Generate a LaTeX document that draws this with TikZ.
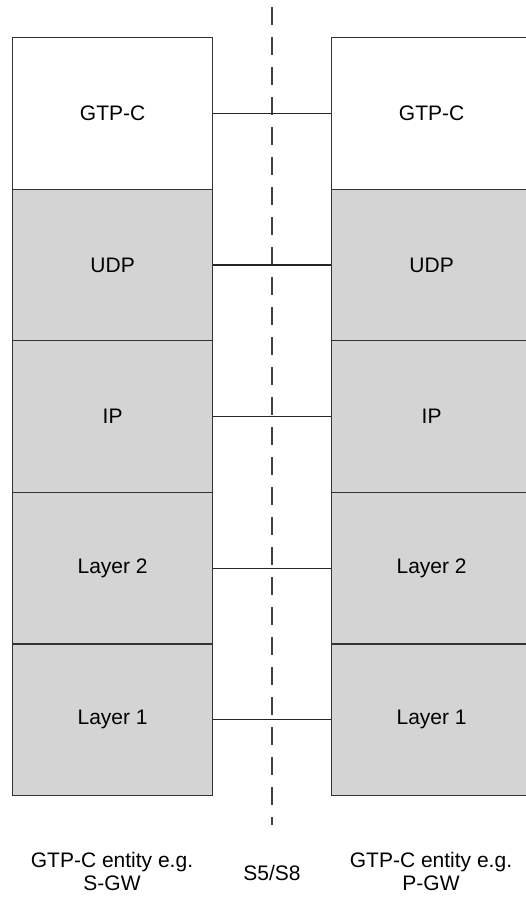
\documentclass[tikz,border=0pt]{standalone}
\usepackage{fontspec}
\setmainfont{Liberation Sans}
\begin{document}
\begin{tikzpicture}[x=1pt,y=-1pt,
  layer/.style={draw=black!80, line width=1.2pt, minimum width=200pt, minimum height=151.6pt,
                inner sep=0pt, font=\fontsize{21}{23}\selectfont, anchor=north west},
  proto/.style={layer, fill=white},
  lower/.style={layer, fill=black!17},
  link/.style={draw=black!85, line width=1.2pt},
  caption/.style={font=\fontsize{21}{23}\selectfont, align=center}]
\useasboundingbox (0,0) rectangle (526,897);
% reference point separating the two peers
\draw[black!75, line width=1.2pt, dash pattern=on 18pt off 12pt] (272,7) -- (272,825);
% left protocol stack
\node[proto] (l1) at (12,37) {GTP-C};
\node[lower] (l2) at (12,188.6) {UDP};
\node[lower] (l3) at (12,340.2) {IP};
\node[lower] (l4) at (12,491.8) {Layer 2};
\node[lower] (l5) at (12,643.4) {Layer 1};
% right protocol stack
\node[proto] (r1) at (331,37) {GTP-C};
\node[lower] (r2) at (331,188.6) {UDP};
\node[lower] (r3) at (331,340.2) {IP};
\node[lower] (r4) at (331,491.8) {Layer 2};
\node[lower] (r5) at (331,643.4) {Layer 1};
% peer-to-peer links between corresponding layers
\foreach \i in {1,...,5} \draw[link] (l\i.east) -- (r\i.west);
% captions
\node[caption] (cl) at (112,871) {GTP-C entity e.g.\\S-GW};
\node[caption] (cm) at (272,873) {S5/S8};
\node[caption] (cr) at (431,871) {GTP-C entity e.g.\\P-GW};
\end{tikzpicture}
\end{document}
